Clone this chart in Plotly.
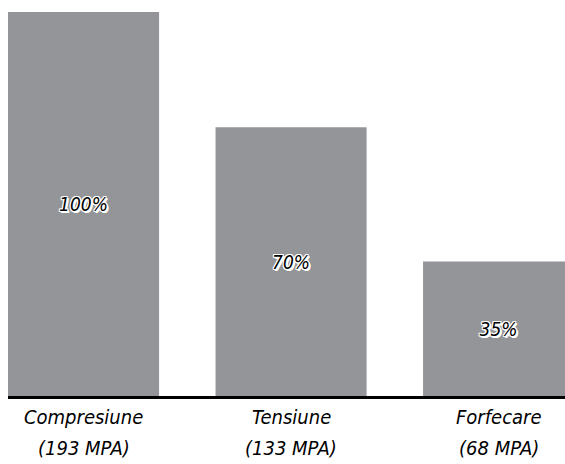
import plotly.graph_objects as go

# Strength of material by load type, relative to compression
categories = ["Compresiune", "Tensiune", "Forfecare"]
strength_mpa = [193, 133, 68]
percent = [100, 70, 35]

mpa_labels = [f"({m} MPA)" for m in strength_mpa]
bar_text = [f"{p}%" for p in percent]

label_font = "DejaVu Sans Condensed, Liberation Sans Narrow, Arial Narrow, sans-serif"
halo = ("white 1px 0px 0px, white -1px 0px 0px, white 0px 1px 0px, white 0px -1px 0px, "
        "white 1px 1px 0px, white -1px -1px 0px, white 1px -1px 0px, white -1px 1px 0px, "
        "white 2px 1px 0px, white 1px 2px 0px, white 2px 2px 0px")

fig = go.Figure(
    go.Bar(
        x=categories,
        y=percent,
        width=0.728,
        marker=dict(color="#939598", line=dict(width=0)),
        text=bar_text,
        textposition="inside",
        insidetextanchor="middle",
        textangle=0,
        textfont=dict(family=label_font, size=19, color="black",
                      style="italic", shadow=halo),
        hoverinfo="skip",
    )
)

# Two-line category captions below the baseline
cap_font = dict(family=label_font, size=20, color="black", style="italic")
for cat, mpa in zip(categories, mpa_labels):
    fig.add_annotation(x=cat, y=0, xref="x", yref="paper", text=cat,
                       showarrow=False, yanchor="middle", yshift=-21, font=cap_font)
    fig.add_annotation(x=cat, y=0, xref="x", yref="paper", text=mpa,
                       showarrow=False, yanchor="middle", yshift=-52, font=cap_font)

fig.update_layout(
    width=565,
    height=464,
    margin=dict(l=8, r=0, t=12, b=68),
    paper_bgcolor="white",
    plot_bgcolor="white",
    showlegend=False,
    xaxis=dict(
        type="category",
        range=[-0.364, 2.320],
        showticklabels=False,
        showline=True,
        linecolor="black",
        linewidth=3,
        ticks="",
        showgrid=False,
        zeroline=False,
        fixedrange=True,
    ),
    yaxis=dict(
        range=[0, 100],
        visible=False,
        showgrid=False,
        zeroline=False,
        fixedrange=True,
    ),
)

fig.write_html("out.html")
